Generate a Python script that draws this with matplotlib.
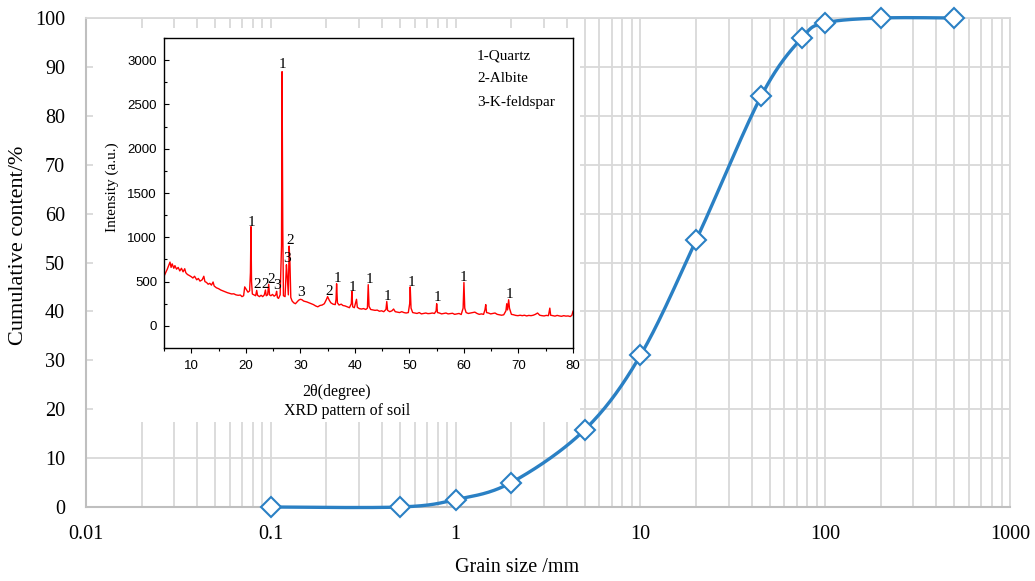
import numpy as np
import matplotlib
matplotlib.use("Agg")
import matplotlib.pyplot as plt
from matplotlib.ticker import FixedLocator, FuncFormatter, MultipleLocator, LogLocator, NullFormatter

# ---------------- grading curve ----------------
grain_size = [0.1, 0.5, 1, 2, 5, 10, 20, 45, 75, 100, 200, 500]
cumulative = [0.0, 0.0, 1.5, 5.0, 15.8, 31.0, 54.5, 84.0, 96.0, 99.0, 100.0, 100.0]

y_ticks = [0, 10, 20, 30, 40, 50, 60, 70, 80, 90, 100]
x_ticks = [0.01, 0.1, 1, 10, 100, 1000]

# ---------------- XRD pattern ----------------
xrd_theta = [
    5.0, 5.3, 5.6, 5.9, 6.1, 6.3, 6.5, 6.8, 7.0, 7.3, 7.6, 7.9, 8.2, 8.5, 8.8, 9.0,
    9.3, 9.6, 10.0, 10.3, 10.6, 11.0, 11.3, 11.6, 12.0, 12.3, 12.5, 12.8, 13.1, 13.4,
    13.7, 14.0, 14.2, 14.6, 15.0, 15.4, 15.8, 16.2, 16.6, 17.0, 17.4, 17.8, 18.2, 18.6,
    19.0, 19.3, 19.6, 19.8, 20.1, 20.4, 20.7, 20.85, 20.95, 21.05, 21.2, 21.5, 21.8,
    22.0, 22.15, 22.5, 22.8, 23.1, 23.4, 23.6, 23.75, 24.0, 24.2, 24.35, 24.6, 24.9,
    25.2, 25.5, 25.65, 25.8, 26.0, 26.3, 26.55, 26.65, 26.78, 26.9, 27.2, 27.45, 27.6,
    27.8, 27.95, 28.1, 28.25, 28.5, 28.8, 29.1, 29.4, 29.7, 30.0, 30.3, 30.6, 30.9,
    31.2, 31.6, 32.0, 32.4, 32.8, 33.2, 33.6, 34.0, 34.4, 34.8, 35.0, 35.3, 35.6, 36.0,
    36.4, 36.55, 36.65, 36.8, 37.1, 37.5, 37.8, 38.2, 38.6, 39.0, 39.35, 39.45, 39.6,
    39.9, 40.3, 40.45, 40.8, 41.2, 41.6, 42.0, 42.3, 42.45, 42.6, 42.9, 43.3, 43.7,
    44.1, 44.5, 44.9, 45.3, 45.7, 45.85, 46.0, 46.4, 46.8, 47.1, 47.4, 47.8, 48.2,
    48.6, 49.0, 49.4, 49.8, 50.05, 50.15, 50.3, 50.6, 51.0, 51.4, 51.8, 52.2, 52.6,
    53.0, 53.4, 53.8, 54.2, 54.6, 54.9, 55.0, 55.15, 55.5, 55.9, 56.3, 56.7, 57.1,
    57.5, 57.9, 58.3, 58.7, 59.1, 59.5, 59.85, 60.0, 60.15, 60.4, 60.8, 61.2, 61.6,
    62.0, 62.4, 62.8, 63.2, 63.6, 63.85, 64.0, 64.15, 64.5, 64.9, 65.3, 65.7, 66.1,
    66.5, 66.9, 67.3, 67.7, 67.85, 68.0, 68.2, 68.35, 68.7, 69.1, 69.5, 69.9, 70.3,
    70.7, 71.1, 71.5, 71.9, 72.3, 72.7, 73.1, 73.5, 73.9, 74.3, 74.7, 75.1, 75.5,
    75.75, 75.9, 76.3, 76.7, 77.1, 77.5, 77.9, 78.3, 78.7, 79.1, 79.5, 79.8, 80.0,
]
xrd_intensity = [
    560, 600, 640, 690, 720, 660, 700, 650, 680, 640, 660, 620, 650, 610, 645, 600,
    580, 570, 555, 540, 560, 520, 535, 505, 520, 560, 500, 490, 470, 480,
    460, 495, 450, 430, 420, 405, 395, 385, 375, 368, 360, 362, 350, 345,
    348, 330, 340, 440, 410, 380, 395, 600, 1120, 500, 360, 350, 340,
    400, 345, 330, 345, 330, 350, 405, 340, 350, 470, 350, 340, 355,
    335, 350, 390, 320, 310, 350, 900, 2870, 1100, 340, 330, 690, 560,
    350, 900, 700, 320, 280, 260, 250, 270, 290, 300, 295, 280, 275,
    270, 260, 250, 240, 225, 215, 230, 235, 250, 300, 330, 290, 260, 245,
    240, 300, 475, 260, 235, 245, 230, 225, 215, 205, 250, 390, 215,
    205, 300, 210, 195, 190, 195, 185, 200, 465, 220, 185, 180, 175,
    178, 165, 170, 160, 185, 275, 175, 160, 170, 190, 160, 155, 150,
    160, 150, 145, 150, 250, 440, 200, 150, 145, 140, 150, 135, 140,
    145, 138, 140, 145, 140, 170, 250, 150, 145, 135, 140, 145, 135,
    138, 142, 130, 135, 140, 128, 200, 490, 200, 150, 140, 145, 150,
    155, 140, 130, 135, 130, 180, 240, 150, 145, 135, 140, 145, 130,
    125, 120, 125, 170, 250, 180, 295, 200, 130, 125, 118, 115, 120,
    115, 120, 112, 118, 115, 120, 130, 145, 120, 115, 112, 118, 115,
    200, 120, 115, 110, 118, 112, 108, 115, 110, 112, 105, 120, 165,
]

# phase labels above the diffraction peaks
peak_theta = [26.7, 21.05, 22.1, 23.5, 24.6, 25.8, 27.6, 28.1, 30.2, 35.3,
              36.8, 39.5, 42.6, 45.9, 50.3, 55.1, 60.0, 68.3]
peak_level = [2955, 1170, 464, 464, 520, 453, 766, 966, 377, 389,
              540, 438, 528, 332, 494, 324, 551, 351]
peak_phase = ["1", "1", "2", "2", "2", "3", "3", "2", "3", "2",
              "1", "1", "1", "1", "1", "1", "1", "1"]
phase_names = ["1-Quartz", "2-Albite", "3-K-feldspar"]

SERIF = ["Liberation Serif", "DejaVu Serif"]
SANS = ["Liberation Sans", "DejaVu Sans"]

W, H = 1035, 581
fig = plt.figure(figsize=(W / 100, H / 100), dpi=100)


def fx(px):
    return px / W


def fy(py):
    return 1 - py / H


# ---------------- main axes ----------------
ax = fig.add_axes([fx(86), fy(507), fx(1010) - fx(86), fy(18) - fy(507)])
ax.set_xscale("log")
ax.set_xlim(0.01, 1000)
ax.set_ylim(0, 100)

grid_c = "#d9d9d9"
ax.xaxis.set_major_locator(FixedLocator(x_ticks))
ax.xaxis.set_minor_locator(LogLocator(base=10, subs=np.arange(2, 10), numticks=20))
ax.xaxis.set_minor_formatter(NullFormatter())
ax.xaxis.set_major_formatter(FuncFormatter(lambda v, p: f"{v:g}"))
ax.yaxis.set_major_locator(FixedLocator(y_ticks))
ax.grid(True, which="major", color=grid_c, lw=1.3)
ax.grid(True, which="minor", axis="x", color=grid_c, lw=1.3)
ax.set_axisbelow(True)
ax.tick_params(which="both", length=0)
ax.tick_params(axis="x", pad=13, labelsize=14.5)
ax.tick_params(axis="y", pad=15, labelsize=14.5)
for lab in ax.get_xticklabels() + ax.get_yticklabels():
    lab.set_fontfamily(SERIF)
for s in ["left", "bottom"]:
    ax.spines[s].set_color("#bfbfbf")
    ax.spines[s].set_linewidth(1.5)
for s in ["top", "right"]:
    ax.spines[s].set_color(grid_c)
    ax.spines[s].set_linewidth(1.3)

fig.text(fx(517), fy(568), "Grain size /mm", ha="center", va="center",
         fontsize=14.5, family=SERIF)
fig.text(fx(19), fy(245), "Cumulative content/%", ha="center", va="center",
         rotation=90, fontsize=16, family=SERIF)

# smoothed line through the points (Catmull-Rom Bezier in screen-like units)
sx = 184.8
sy = 4.89
P = np.column_stack([np.log10(grain_size) * sx, np.array(cumulative) * sy])
curve = []
tt = np.linspace(0, 1, 40)
for i in range(len(P) - 1):
    p0 = P[i - 1] if i > 0 else P[i]
    p1, p2 = P[i], P[i + 1]
    p3 = P[i + 2] if i + 2 < len(P) else P[i + 1]
    c1 = p1 + (p2 - p0) / 6
    c2 = p2 - (p3 - p1) / 6
    seg = ((1 - tt) ** 3)[:, None] * p1 + (3 * (1 - tt) ** 2 * tt)[:, None] * c1 \
        + (3 * (1 - tt) * tt ** 2)[:, None] * c2 + (tt ** 3)[:, None] * p2
    curve.append(seg)
curve = np.vstack(curve)
blue = "#2a80c4"
ax.plot(10 ** (curve[:, 0] / sx), curve[:, 1] / sy, color=blue, lw=2.4,
        clip_on=False, zorder=3, solid_capstyle="round")
ax.plot(grain_size, cumulative, ls="none", marker="D", ms=10.5, mfc="white",
        mec=blue, mew=1.5, clip_on=False, zorder=4)

# ---------------- white panel behind the inset ----------------
bg = fig.add_axes([fx(93), fy(422), fx(580) - fx(93), fy(28) - fy(422)])
bg.set_facecolor("white")
bg.set_xticks([])
bg.set_yticks([])
for s in bg.spines.values():
    s.set_visible(False)

# ---------------- inset: XRD pattern ----------------
ins = fig.add_axes([fx(164), fy(348), fx(573) - fx(164), fy(38) - fy(348)])
ins.plot(xrd_theta, xrd_intensity, color="#ff0000", lw=1.0)
ins.set_xlim(5, 80)
ins.set_ylim(-250, 3250)
ins.xaxis.set_major_locator(MultipleLocator(10))
ins.xaxis.set_minor_locator(MultipleLocator(5))
ins.yaxis.set_minor_locator(MultipleLocator(250))
ins.set_yticks([0, 500, 1000, 1500, 2000, 2500, 3000])
ins.tick_params(axis="y", which="major", direction="in", length=3.5, width=0.8, labelsize=9.5, pad=5)
ins.tick_params(axis="y", which="minor", direction="in", length=2, width=0.8)
ins.tick_params(axis="x", which="major", direction="out", length=3.5, width=0.8, labelsize=9.5, pad=5)
ins.tick_params(axis="x", which="minor", direction="out", length=2, width=0.8)
for lab in ins.get_xticklabels() + ins.get_yticklabels():
    lab.set_fontfamily(SANS)
for s in ins.spines.values():
    s.set_linewidth(1.0)

fig.text(fx(337), fy(392), "2θ(degree)", ha="center", va="center",
         fontsize=11.5, family=SERIF)
fig.text(fx(112), fy(187), "Intensity (a.u.)", ha="center", va="center",
         rotation=90, fontsize=11, family=SERIF)
fig.text(fx(347), fy(411), "XRD pattern of soil", ha="center", va="center",
         fontsize=11.5, family=SERIF)

for t, lv, ph in zip(peak_theta, peak_level, peak_phase):
    ins.text(t, lv, ph, ha="center", va="center", fontsize=11, family=SERIF)

for k, name in enumerate(phase_names):
    ins.text(62.4, 3049 - k * 261, name, ha="left", va="center", fontsize=11, family=SERIF)

fig.savefig("out.png", dpi=100)
